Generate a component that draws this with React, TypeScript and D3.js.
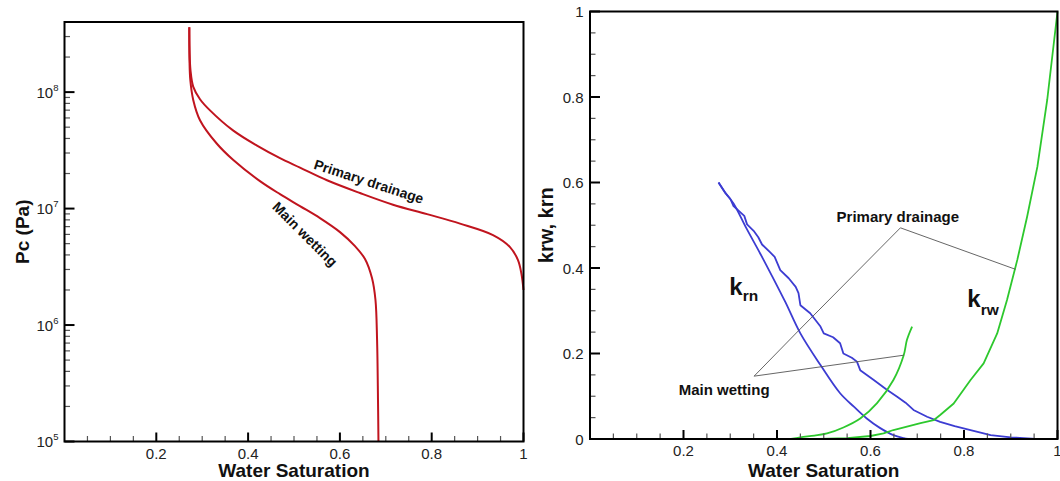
import React from "react";
import * as d3 from "d3";

// ---------- Data ----------
// Left panel: capillary pressure curves (Sw, Pc in Pa)
const pcPrimaryDrainage: [number, number][] = [
  [0.2719, 3.6e8], [0.2725, 2.29e8], [0.2745, 1.54e8], [0.2806, 1.11e8], [0.2952, 8.69e7],
  [0.317, 6.97e7], [0.3671, 4.69e7], [0.4194, 3.47e7], [0.4695, 2.71e7], [0.5131, 2.25e7],
  [0.5719, 1.75e7], [0.6438, 1.36e7], [0.7157, 1.08e7], [0.7898, 8.96e6], [0.8617, 7.43e6],
  [0.9336, 5.92e6], [0.9706, 4.67e6], [0.988, 3.61e6], [0.9956, 2.74e6], [1.0, 2.0e6],
];
const pcMainWetting: [number, number][] = [
  [0.2719, 3.6e8], [0.2723, 1.88e8], [0.2741, 1.27e8], [0.2806, 8.53e7], [0.2952, 5.74e7],
  [0.3316, 3.62e7], [0.3678, 2.61e7], [0.4259, 1.72e7], [0.4695, 1.33e7], [0.513, 1.05e7],
  [0.5566, 8.28e6], [0.6002, 6.28e6], [0.6329, 4.76e6], [0.6547, 3.69e6], [0.6699, 2.53e6],
  [0.6775, 1.64e6], [0.681, 7.43e5], [0.683, 2.27e5], [0.684, 1.0e5],
];

// Right panel: relative permeabilities (Sw, kr)
const krnPrimaryDrainage: [number, number][] = [
  [0.275, 0.6], [0.29, 0.575], [0.3, 0.562], [0.307, 0.545], [0.32, 0.532], [0.33, 0.522],
  [0.336, 0.502], [0.35, 0.487], [0.36, 0.472], [0.368, 0.455], [0.385, 0.437], [0.395, 0.426],
  [0.407, 0.395], [0.425, 0.376], [0.44, 0.356], [0.446, 0.341], [0.45, 0.313], [0.471, 0.294],
  [0.493, 0.263], [0.5, 0.247], [0.52, 0.238], [0.535, 0.224], [0.542, 0.2], [0.56, 0.19],
  [0.571, 0.181], [0.578, 0.161], [0.607, 0.138], [0.635, 0.115], [0.657, 0.099], [0.675, 0.085],
  [0.692, 0.068], [0.721, 0.052], [0.749, 0.04], [0.78, 0.03], [0.814, 0.021], [0.857, 0.009],
  [0.9, 0.004], [0.928, 0.002], [0.953, 0.0],
];
const krnMainWetting: [number, number][] = [
  [0.275, 0.6], [0.29, 0.575], [0.307, 0.551], [0.335, 0.492], [0.364, 0.434], [0.39, 0.38],
  [0.418, 0.32], [0.45, 0.247], [0.493, 0.173], [0.535, 0.107], [0.565, 0.075], [0.592, 0.048],
  [0.62, 0.026], [0.649, 0.009], [0.671, 0.002], [0.68, 0.0],
];
const krwMainWetting: [number, number][] = [
  [0.43, 0.0], [0.45, 0.004], [0.48, 0.008], [0.507, 0.013], [0.542, 0.027], [0.578, 0.048],
  [0.614, 0.084], [0.649, 0.138], [0.671, 0.196], [0.678, 0.232], [0.689, 0.263],
];
const krwPrimaryDrainage: [number, number][] = [
  [0.49, 0.0], [0.55, 0.002], [0.6, 0.007], [0.628, 0.013], [0.649, 0.021], [0.678, 0.029],
  [0.707, 0.037], [0.735, 0.044], [0.749, 0.056], [0.778, 0.083], [0.814, 0.138], [0.842, 0.177],
  [0.871, 0.247], [0.892, 0.325], [0.914, 0.419], [0.935, 0.52], [0.957, 0.637], [0.978, 0.793],
  [1.0, 1.0],
];

// Annotation leader lines (Sw, kr)
const wettingCallout: [number, number][] = [[0.4475, 0.255], [0.351, 0.147], [0.671, 0.196]];
const drainageCallout: [number, number][] = [[0.4475, 0.255], [0.664, 0.494], [0.91, 0.397]];

// Ticks
const satTicks = [0.2, 0.4, 0.6, 0.8, 1];
const satTickLabels = ["0.2", "0.4", "0.6", "0.8", "1"];
const pcTicks = [1e5, 1e6, 1e7, 1e8];
const pcExponents = ["5", "6", "7", "8"];
const krTicks = [0, 0.2, 0.4, 0.6, 0.8, 1];
const krTickLabels = ["0", "0.2", "0.4", "0.6", "0.8", "1"];

const RED = "#c0141e";
const BLUE = "#3c3cd2";
const GREEN = "#2dc82d";
const FONT = "'Liberation Sans', Arial, Helvetica, sans-serif";

export default function App() {
  const W = 1060;
  const H = 481;

  const lx = d3.scaleLinear().domain([0, 1]).range([64.5, 523.5]);
  const ly = d3.scaleLog().domain([1e5, 4e8]).range([441.5, 22]);
  const rx = d3.scaleLinear().domain([0, 1]).range([590, 1057.5]);
  const ry = d3.scaleLinear().domain([0, 1]).range([439, 11.5]);

  const leftLine = d3
    .line<[number, number]>()
    .x((d) => lx(d[0]))
    .y((d) => ly(d[1]))
    .curve(d3.curveCatmullRom.alpha(0.5));
  const rightSmooth = d3
    .line<[number, number]>()
    .x((d) => rx(d[0]))
    .y((d) => ry(d[1]))
    .curve(d3.curveCatmullRom.alpha(0.5));
  const rightLinear = d3
    .line<[number, number]>()
    .x((d) => rx(d[0]))
    .y((d) => ry(d[1]));

  const satMinor = d3.range(0.05, 1.0001, 0.05).filter((v) => Math.abs(v * 5 - Math.round(v * 5)) > 1e-6);
  const pcMinor: number[] = [];
  for (let k = 5; k <= 8; k++) {
    for (let m = 2; m <= 9; m++) {
      const v = m * Math.pow(10, k);
      if (v < 4e8 - 1) pcMinor.push(v);
    }
  }
  const krMinor = d3.range(0.05, 1.0001, 0.05).filter((v) => Math.abs(v * 5 - Math.round(v * 5)) > 1e-6);

  const lBottom = ly.range()[0];
  const lLeft = lx.range()[0];
  const rBottom = ry.range()[0];
  const rLeft = rx.range()[0];

  const majorLen = 9;
  const minorLen = 5.5;

  return (
    <svg
      width={W}
      height={H}
      style={{ position: "absolute", left: 0, top: 0, background: "#fff" }}
      fontFamily={FONT}
    >
      <rect x={0} y={0} width={W} height={H} fill="#fff" />

      {/* ---------------- Left panel ---------------- */}
      <g>
        <path d={leftLine(pcPrimaryDrainage) || ""} fill="none" stroke={RED} strokeWidth={2} />
        <path d={leftLine(pcMainWetting) || ""} fill="none" stroke={RED} strokeWidth={2} />

        {/* x ticks */}
        {satMinor.map((v) => (
          <line key={"lxm" + v} x1={lx(v)} x2={lx(v)} y1={lBottom} y2={lBottom - minorLen} stroke="#555" strokeWidth={1.2} />
        ))}
        {satTicks.map((v) => (
          <line key={"lxM" + v} x1={lx(v)} x2={lx(v)} y1={lBottom} y2={lBottom - majorLen} stroke="#000" strokeWidth={2} />
        ))}
        {satTicks.map((v, i) => (
          <text key={"lxl" + v} x={lx(v)} y={lBottom + 17} fontSize={15} textAnchor="middle" fill="#222">
            {satTickLabels[i]}
          </text>
        ))}

        {/* y ticks */}
        {pcMinor.map((v) => (
          <line key={"lym" + v} x1={lLeft} x2={lLeft + minorLen} y1={ly(v)} y2={ly(v)} stroke="#555" strokeWidth={1.2} />
        ))}
        {pcTicks.map((v) => (
          <line key={"lyM" + v} x1={lLeft} x2={lLeft + 10} y1={ly(v)} y2={ly(v)} stroke="#000" strokeWidth={2} />
        ))}
        {pcTicks.map((v, i) => (
          <text key={"lyl" + v} x={lLeft - 6} y={ly(v) + 5.5} fontSize={15} textAnchor="end" fill="#222">
            <tspan>10</tspan>
            <tspan fontSize={9.5} dy={-7}>{pcExponents[i]}</tspan>
          </text>
        ))}

        {/* frame */}
        <rect
          x={lx(0)}
          y={ly(4e8)}
          width={lx(1) - lx(0)}
          height={ly(1e5) - ly(4e8)}
          fill="none"
          stroke="#000"
          strokeWidth={2}
        />

        {/* curve labels */}
        <text
          transform={`translate(${lx(0.663)},${ly(1.71e7)}) rotate(18)`}
          fontSize={14}
          fontWeight="bold"
          textAnchor="middle"
          dominantBaseline="central"
          fill="#111"
        >
          Primary drainage
        </text>
        <text
          transform={`translate(${lx(0.524)},${ly(6.03e6)}) rotate(45)`}
          fontSize={14}
          fontWeight="bold"
          textAnchor="middle"
          dominantBaseline="central"
          fill="#111"
        >
          Main wetting
        </text>

        {/* axis titles */}
        <text x={(lx(0) + lx(1)) / 2} y={477} fontSize={19} fontWeight="bold" textAnchor="middle" fill="#111">
          Water Saturation
        </text>
        <text
          transform={`translate(29,${(ly(1e5) + ly(4e8)) / 2}) rotate(-90)`}
          fontSize={19}
          fontWeight="bold"
          textAnchor="middle"
          fill="#111"
        >
          Pc (Pa)
        </text>
      </g>

      {/* ---------------- Right panel ---------------- */}
      <g>
        <path d={rightLinear(krnPrimaryDrainage) || ""} fill="none" stroke={BLUE} strokeWidth={1.8} strokeLinejoin="round" />
        <path d={rightSmooth(krnMainWetting) || ""} fill="none" stroke={BLUE} strokeWidth={1.8} />
        <path d={rightSmooth(krwMainWetting) || ""} fill="none" stroke={GREEN} strokeWidth={1.8} />
        <path d={rightLinear(krwPrimaryDrainage) || ""} fill="none" stroke={GREEN} strokeWidth={1.8} strokeLinejoin="round" />

        {/* leader lines */}
        <path d={rightLinear(wettingCallout) || ""} fill="none" stroke="#555" strokeWidth={0.9} />
        <path d={rightLinear(drainageCallout) || ""} fill="none" stroke="#555" strokeWidth={0.9} />

        {/* x ticks */}
        {satMinor.map((v) => (
          <line key={"rxm" + v} x1={rx(v)} x2={rx(v)} y1={rBottom} y2={rBottom - minorLen} stroke="#555" strokeWidth={1.2} />
        ))}
        {satTicks.map((v) => (
          <line key={"rxM" + v} x1={rx(v)} x2={rx(v)} y1={rBottom} y2={rBottom - majorLen} stroke="#000" strokeWidth={2} />
        ))}
        {satTicks.map((v, i) => (
          <text key={"rxl" + v} x={rx(v)} y={rBottom + 17} fontSize={15} textAnchor="middle" fill="#222">
            {satTickLabels[i]}
          </text>
        ))}

        {/* y ticks */}
        {krMinor.map((v) => (
          <line key={"rym" + v} x1={rLeft} x2={rLeft + minorLen} y1={ry(v)} y2={ry(v)} stroke="#555" strokeWidth={1.2} />
        ))}
        {krTicks.map((v) => (
          <line key={"ryM" + v} x1={rLeft} x2={rLeft + 10} y1={ry(v)} y2={ry(v)} stroke="#000" strokeWidth={2} />
        ))}
        {krTicks.map((v, i) => (
          <text key={"ryl" + v} x={rLeft - 6.5} y={ry(v) + 5.5} fontSize={15} textAnchor="end" fill="#222">
            {krTickLabels[i]}
          </text>
        ))}

        {/* frame */}
        <rect
          x={rx(0)}
          y={ry(1)}
          width={rx(1) - rx(0)}
          height={ry(0) - ry(1)}
          fill="none"
          stroke="#000"
          strokeWidth={2}
        />

        {/* callout texts */}
        <text x={rx(0.6585)} y={ry(0.52) + 5.4} fontSize={15} fontWeight="bold" textAnchor="middle" fill="#111">
          Primary drainage
        </text>
        <text x={rx(0.287)} y={ry(0.115) + 5.4} fontSize={15} fontWeight="bold" textAnchor="middle" fill="#111">
          Main wetting
        </text>

        {/* k labels */}
        <text x={rx(0.298)} y={ry(0.337)} fontSize={24} fontWeight="bold" fill="#111">
          k<tspan fontSize={15.5} dy={6.5}>rn</tspan>
        </text>
        <text x={rx(0.807)} y={ry(0.309)} fontSize={24} fontWeight="bold" fill="#111">
          k<tspan fontSize={15.5} dy={8}>rw</tspan>
        </text>

        {/* axis titles */}
        <text x={(rx(0) + rx(1)) / 2} y={477} fontSize={19} fontWeight="bold" textAnchor="middle" fill="#111">
          Water Saturation
        </text>
        <text
          transform={`translate(553,${(ry(0) + ry(1)) / 2}) rotate(-90)`}
          fontSize={20}
          fontWeight="bold"
          textAnchor="middle"
          fill="#111"
        >
          krw, krn
        </text>
      </g>
    </svg>
  );
}
